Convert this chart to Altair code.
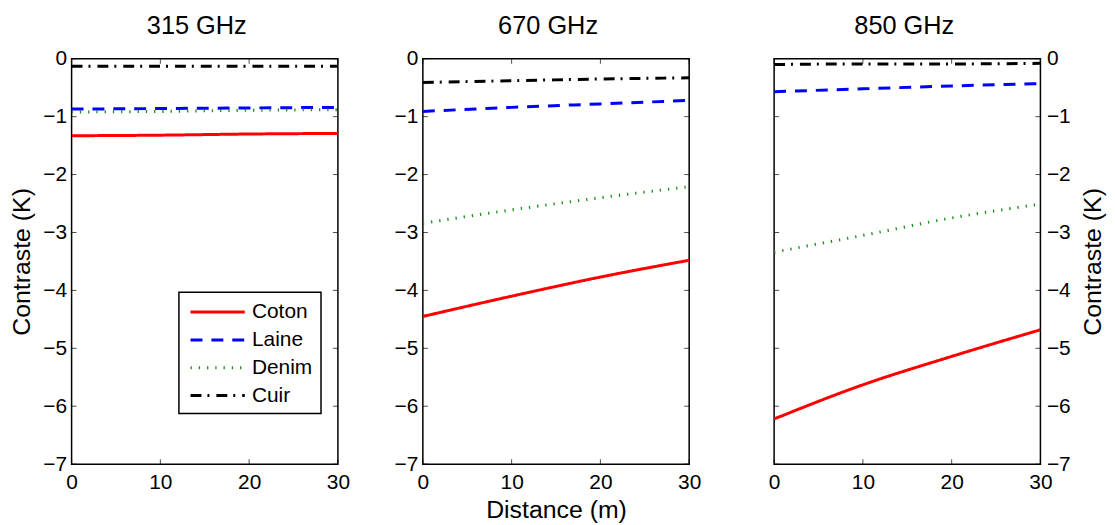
import altair as alt
import pandas as pd

# ---- data ----
distance = [0, 10, 20, 30]
series = ["Coton", "Laine", "Denim", "Cuir"]
panels = ["315 GHz", "670 GHz", "850 GHz"]

coton_315 = [-1.33, -1.32, -1.30, -1.29]
laine_315 = [-0.87, -0.86, -0.85, -0.84]
denim_315 = [-0.92, -0.91, -0.89, -0.88]
cuir_315 = [-0.13, -0.13, -0.13, -0.13]

coton_670 = [-4.45, -4.10, -3.77, -3.48]
laine_670 = [-0.91, -0.84, -0.78, -0.72]
denim_670 = [-2.84, -2.61, -2.40, -2.21]
cuir_670 = [-0.41, -0.38, -0.35, -0.33]

coton_850 = [-6.22, -5.63, -5.14, -4.68]
laine_850 = [-0.57, -0.52, -0.47, -0.43]
denim_850 = [-3.34, -3.05, -2.75, -2.51]
cuir_850 = [-0.10, -0.09, -0.09, -0.08]

y_ticks = [0, -1, -2, -3, -4, -5, -6, -7]
x_ticks = [0, 10, 20, 30]

colors = ["#ff0000", "#0000ff", "#1a8c1a", "#000000"]
dashes = [[1, 0], [12, 9], [1.3, 7], [11, 6, 2, 7]]

FONT = "Liberation Sans"
W, H = 268, 408

table = {
    "315 GHz": [coton_315, laine_315, denim_315, cuir_315],
    "670 GHz": [coton_670, laine_670, denim_670, cuir_670],
    "850 GHz": [coton_850, laine_850, denim_850, cuir_850],
}

xscale = alt.Scale(domain=[0, 30], nice=False, zero=False)
yscale = alt.Scale(domain=[-7, 0], nice=False, zero=False)
ytick_df = pd.DataFrame({"v": y_ticks})
xtick_df = pd.DataFrame({"d": x_ticks})


def panel(name, idx):
    rows = []
    for s, vals in zip(series, table[name]):
        for d, v in zip(distance, vals):
            rows.append({"Distance": d, "Contraste": v, "Serie": s})
    df = pd.DataFrame(rows)

    if idx == 0:
        legend = alt.Legend(
            title=None, orient="none", legendX=108, legendY=235,
            symbolType="M-2.6,0H2.6", symbolSize=441, symbolStrokeWidth=3,
            symbolOffset=19, symbolFillColor="transparent",
            labelFontSize=21, labelFont=FONT, labelColor="black",
            strokeColor="black", fillColor="white", padding=8,
            rowPadding=6, labelOffset=22.5,
        )
    else:
        legend = None

    xaxis = alt.Axis(
        values=x_ticks, format="d", labelFlush=False, labelOverlap=False,
        ticks=False, tickSize=0, domain=False, grid=False, labelPadding=7.5,
        title="Distance (m)" if idx == 1 else None, titlePadding=5.5,
    )
    yaxis = alt.Axis(
        values=y_ticks, format="d", labelOverlap=False, labelFlush=False,
        ticks=False, tickSize=0, domain=False, grid=False,
        labelPadding=5 if idx < 2 else 6,
        orient="right" if idx == 2 else "left",
        title="Contraste (K)" if idx in (0, 2) else None,
        titlePadding=8 if idx < 2 else 11,
        titleAngle=270,
        titleBaseline="top" if idx == 2 else "bottom",
    )

    lines = alt.Chart(df).mark_line(strokeWidth=3, clip=True, interpolate="monotone").encode(
        x=alt.X("Distance:Q", scale=xscale, axis=xaxis),
        y=alt.Y("Contraste:Q", scale=yscale, axis=yaxis),
        color=alt.Color("Serie:N", scale=alt.Scale(domain=series, range=colors), legend=legend),
        strokeDash=alt.StrokeDash("Serie:N", scale=alt.Scale(domain=series, range=dashes), legend=legend),
        detail="Serie:N",
    )

    yl = alt.Chart(ytick_df).mark_tick(orient="horizontal", size=5, thickness=1, color="black").encode(
        y=alt.Y("v:Q", scale=yscale), x=alt.value(2.5))
    yr = alt.Chart(ytick_df).mark_tick(orient="horizontal", size=5, thickness=1, color="black").encode(
        y=alt.Y("v:Q", scale=yscale), x=alt.value(W - 2.5))
    xb = alt.Chart(xtick_df).mark_tick(orient="vertical", size=5, thickness=1, color="black").encode(
        x=alt.X("d:Q", scale=xscale), y=alt.value(H - 2.5))
    xt = alt.Chart(xtick_df).mark_tick(orient="vertical", size=5, thickness=1, color="black").encode(
        x=alt.X("d:Q", scale=xscale), y=alt.value(2.5))

    dx = -8 if idx < 2 else -3
    return alt.layer(lines, yl, yr, xb, xt).properties(
        width=W, height=H,
        title=alt.TitleParams(name, fontSize=25.5, font=FONT, fontWeight="normal",
                              color="black", anchor="middle", offset=-11.2, frame="group",
                              baseline="alphabetic", dx=dx),
    )


chart = alt.hconcat(
    *[panel(p, i) for i, p in enumerate(panels)], spacing=85.5, bounds="flush"
).resolve_scale(color="independent", strokeDash="independent").properties(
    padding={"left": 1, "top": 2.4, "right": 0, "bottom": 0}
).configure_view(stroke="black", strokeWidth=1.5).configure_axis(
    labelFont=FONT, titleFont=FONT, labelFontSize=21, titleFontSize=25,
    labelColor="black", titleColor="black", titleFontWeight="normal",
).configure_legend(strokeWidth=1.5)

chart.save("out.html", embed_options={"renderer": "svg", "actions": False})
